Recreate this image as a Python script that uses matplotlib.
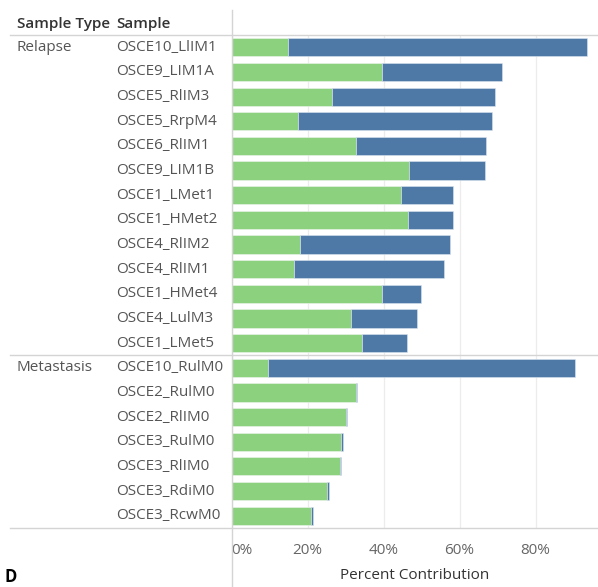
import matplotlib.pyplot as plt
from matplotlib.lines import Line2D
import matplotlib.transforms as mtransforms

plt.rcParams['font.family'] = ['Open Sans', 'DejaVu Sans']

# data
sample_types = ["Relapse", "Metastasis"]
relapse_samples = ["OSCE10_LlIM1", "OSCE9_LIM1A", "OSCE5_RlIM3", "OSCE5_RrpM4", "OSCE6_RlIM1",
                   "OSCE9_LIM1B", "OSCE1_LMet1", "OSCE1_HMet2", "OSCE4_RlIM2", "OSCE4_RlIM1",
                   "OSCE1_HMet4", "OSCE4_LulM3", "OSCE1_LMet5"]
relapse_green = [14.9, 39.5, 26.5, 17.5, 32.7, 46.6, 44.6, 46.3, 18.1, 16.4, 39.5, 31.4, 34.3]
relapse_blue = [78.6, 31.7, 42.7, 51.1, 34.2, 20.0, 13.6, 11.9, 39.5, 39.5, 10.3, 17.4, 11.9]
meta_samples = ["OSCE10_RulM0", "OSCE2_RulM0", "OSCE2_RlIM0", "OSCE3_RulM0", "OSCE3_RlIM0",
                "OSCE3_RdiM0", "OSCE3_RcwM0"]
meta_green = [9.7, 32.7, 30.1, 28.9, 28.5, 25.2, 21.0]
meta_blue = [80.6, 0.2, 0.2, 0.3, 0.2, 0.4, 0.4]
xticks = [0, 20, 40, 60, 80]

samples = relapse_samples + meta_samples
green = relapse_green + meta_green
blue = relapse_blue + meta_blue

W, H = 598, 587
fig = plt.figure(figsize=(W / 100, H / 100), dpi=100)
left_px, right_px, top_px, bot_px = 231.5, 598, 35, 528
ax = fig.add_axes([left_px / W, 1 - bot_px / H, (right_px - left_px) / W, (bot_px - top_px) / H])

ypos = list(range(len(samples)))
ax.barh(ypos, green, height=0.74, color='#8CD17D', edgecolor='#eef4ec', linewidth=0.4)
ax.barh(ypos, blue, left=green, height=0.74, color='#4E79A7', edgecolor='#dbe5f0', linewidth=0.4)

ax.set_xlim(0, 96.4)
ax.set_ylim(len(samples) - 0.5, -0.5)
ax.set_yticks([])
ax.set_xticks(xticks)
ax.set_xticklabels([f"{t}%" for t in xticks], color='#666666', fontsize=11)
ax.get_xticklabels()[0].set_ha('left')
ax.tick_params(axis='x', length=0, pad=11)
ax.xaxis.grid(True, color='#ececec', linewidth=0.9)
ax.set_axisbelow(True)
for s in ax.spines.values():
    s.set_visible(False)
ax.set_xlabel("Percent Contribution", fontsize=11, color='#333333', labelpad=7)

# row labels
tr = mtransforms.blended_transform_factory(fig.transFigure, ax.transData)
for i, name in enumerate(samples):
    ax.text(116 / W, i, name, transform=tr, ha='left', va='center', fontsize=11, color='#555555')
ax.text(17 / W, 0, sample_types[0], transform=tr, ha='left', va='center', fontsize=11, color='#555555')
ax.text(17 / W, len(relapse_samples), sample_types[1], transform=tr, ha='left', va='center',
        fontsize=11, color='#555555')

# header
fig.text(17 / W, 1 - 24 / H, "Sample Type", ha='left', va='center', fontsize=11,
         color='#333333', fontweight='semibold')
fig.text(116 / W, 1 - 24 / H, "Sample", ha='left', va='center', fontsize=11,
         color='#333333', fontweight='semibold')
fig.text(5 / W, 1 - 577 / H, "D", ha='left', va='center', fontsize=12, fontweight='bold', color='black')

# divider lines
def hline(y_px):
    fig.add_artist(Line2D([10 / W, 1], [1 - y_px / H, 1 - y_px / H], color='#d4d4d4', linewidth=1.0))

hline(top_px)
sep = top_px + (bot_px - top_px) * len(relapse_samples) / len(samples)
hline(sep)
hline(bot_px)
fig.add_artist(Line2D([left_px / W, left_px / W], [0, 1 - 10 / H], color='#d4d4d4', linewidth=1.0))

fig.savefig("out.png", dpi=100)
